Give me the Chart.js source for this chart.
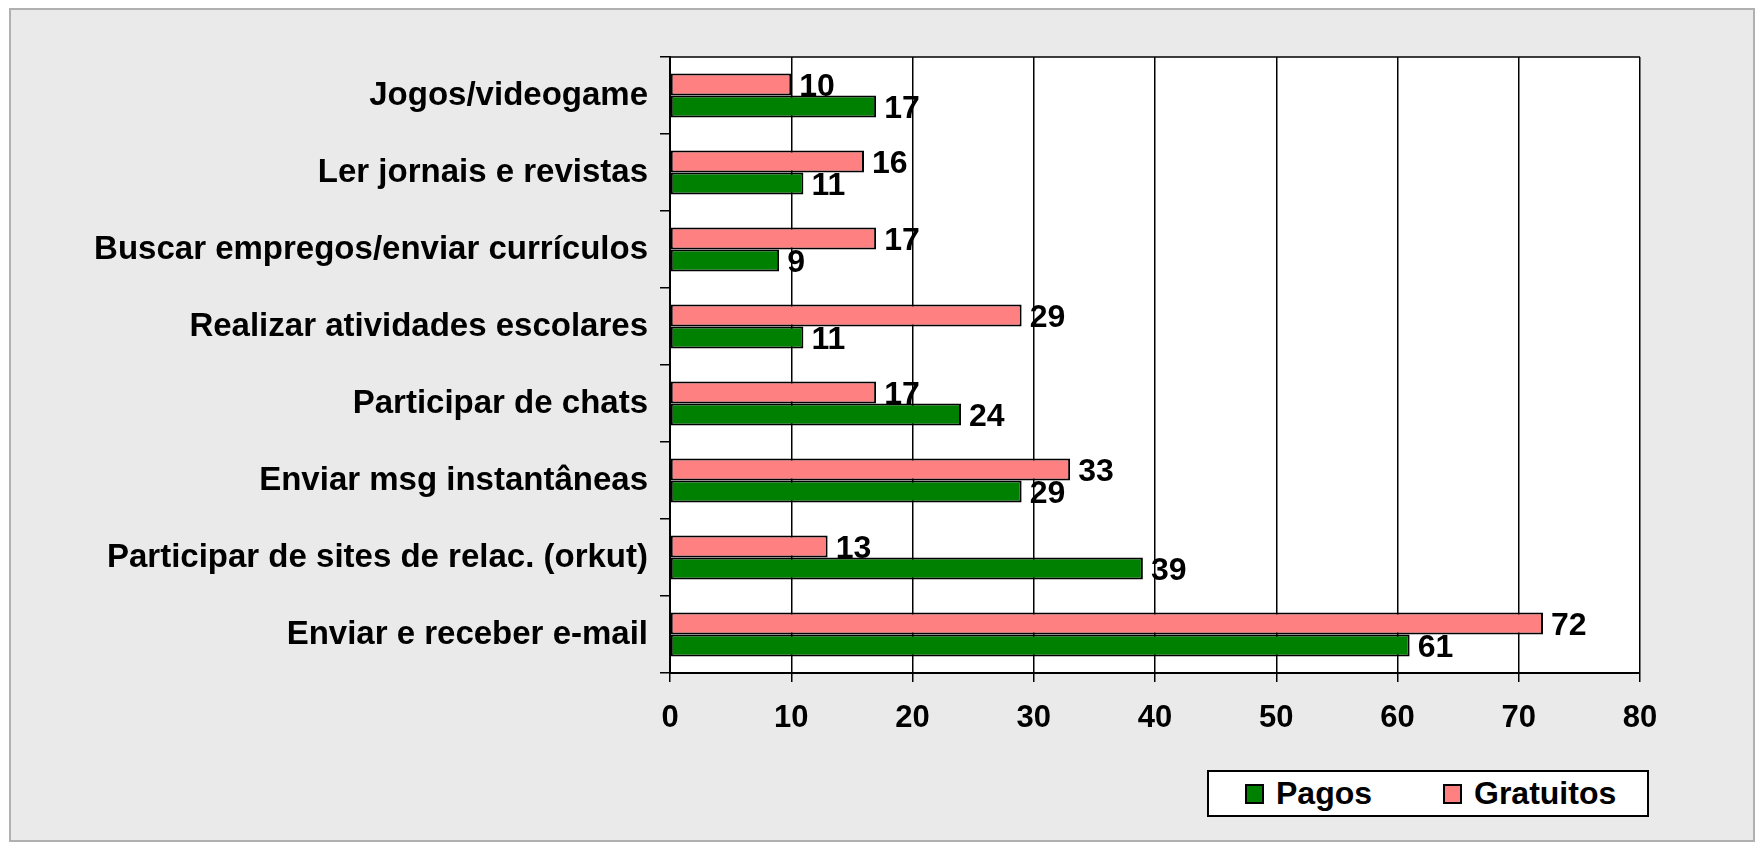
<!DOCTYPE html>
<html>
<head>
<meta charset="utf-8">
<script src="https://cdn.jsdelivr.net/npm/chart.js@4"></script>
<style>
  html, body { margin: 0; padding: 0; background: #fff; }
  #quadro {
    position: absolute; left: 9px; top: 8px; width: 1742px; height: 830px;
    background: #eaeaea; border: 2px solid #b0b0b0;
  }
  #wrap { position: absolute; left: 0; top: 0; width: 1762px; height: 850px; }
  #legenda {
    position: absolute; left: 1207px; top: 770px; width: 442px; height: 47px;
    background: #fff; border: 2px solid #000; box-sizing: border-box;
    font: bold 32px "Liberation Sans", Arial, sans-serif; color: #000;
  }
  .item { position: absolute; top: 0; height: 43px; display: flex; align-items: center; }
  .quad { width: 15px; height: 16px; border: 2px solid #000; margin-right: 12px; }
</style>
</head>
<body>
<div id="quadro"></div>
<div id="wrap"><canvas id="grafico" width="1762" height="850"></canvas></div>
<div id="legenda"></div>
<script>
const categorias = [
    "Jogos/videogame",
    "Ler jornais e revistas",
    "Buscar empregos/enviar currículos",
    "Realizar atividades escolares",
    "Participar de chats",
    "Enviar msg instantâneas",
    "Participar de sites de relac. (orkut)",
    "Enviar e receber e-mail"
];
const gratuitos = [10, 16, 17, 29, 17, 33, 13, 72];
const pagos = [17, 11, 9, 11, 24, 29, 39, 61];

const corPagos = "#008000";
const corGratuitos = "#ff8080";
const fonte = "Liberation Sans, Arial, sans-serif";

// fundo branco da área do gráfico + borda superior
const areaPlugin = {
    id: "area",
    beforeDraw(chart) {
        const { ctx, chartArea: a } = chart;
        ctx.save();
        ctx.fillStyle = "#fff";
        ctx.fillRect(a.left, a.top, a.right - a.left, a.bottom - a.top);
        ctx.restore();
    },
    afterDraw(chart) {
        const { ctx, chartArea: a } = chart;
        ctx.save();
        ctx.strokeStyle = "#000";
        ctx.lineWidth = 1.5;
        ctx.beginPath();
        ctx.moveTo(a.left, a.top);
        ctx.lineTo(a.right, a.top);
        ctx.stroke();
        ctx.restore();
    }
};

// rótulos com valores ao lado das barras
const rotulosPlugin = {
    id: "rotulos",
    afterDatasetsDraw(chart) {
        const ctx = chart.ctx;
        ctx.save();
        ctx.font = "bold 32px " + fonte;
        ctx.fillStyle = "#000";
        ctx.textAlign = "left";
        ctx.textBaseline = "middle";
        chart.data.datasets.forEach((ds, i) => {
            chart.getDatasetMeta(i).data.forEach((bar, j) => {
                ctx.fillText(ds.data[j], bar.x + 8, bar.y + 3);
            });
        });
        ctx.restore();
    }
};

new Chart(document.getElementById("grafico"), {
    type: "bar",
    data: {
        labels: categorias,
        datasets: [
            { label: "Gratuitos", data: gratuitos, backgroundColor: corGratuitos, borderColor: "#000", borderWidth: 2, borderSkipped: false },
            { label: "Pagos", data: pagos, backgroundColor: corPagos, borderColor: "#000", borderWidth: 2, borderSkipped: false }
        ]
    },
    options: {
        indexAxis: "y",
        responsive: false,
        animation: false,
        categoryPercentage: 0.57,
        barPercentage: 1,
        layout: { padding: { top: 57, right: 122, left: 0, bottom: 0 } },
        plugins: { legend: { display: false }, tooltip: { enabled: false } },
        scales: {
            x: {
                min: 0, max: 80,
                ticks: { stepSize: 10, color: "#000", padding: 18, font: { family: fonte, size: 31, weight: "bold" } },
                grid: { color: "#000", lineWidth: 1.5, tickLength: 9 },
                border: { color: "#000", width: 2 },
                afterFit(s) { s.height = 177; }
            },
            y: {
                ticks: { color: "#000", padding: 12, font: { family: fonte, size: 33, weight: "bold" } },
                grid: { color: "#000", lineWidth: 1.5, tickLength: 10, drawOnChartArea: false, offset: true },
                border: { color: "#000", width: 2 },
                afterFit(s) { s.width = 670; }
            }
        }
    },
    plugins: [areaPlugin, rotulosPlugin]
});

// legenda (Pagos primeiro)
const legenda = document.getElementById("legenda");
[["Pagos", corPagos, 36], ["Gratuitos", corGratuitos, 234]].forEach(([nome, cor, esq]) => {
    const item = document.createElement("div");
    item.className = "item";
    item.style.left = esq + "px";
    item.innerHTML = '<div class="quad" style="background:' + cor + '"></div>' + nome;
    legenda.appendChild(item);
});
</script>
</body>
</html>
